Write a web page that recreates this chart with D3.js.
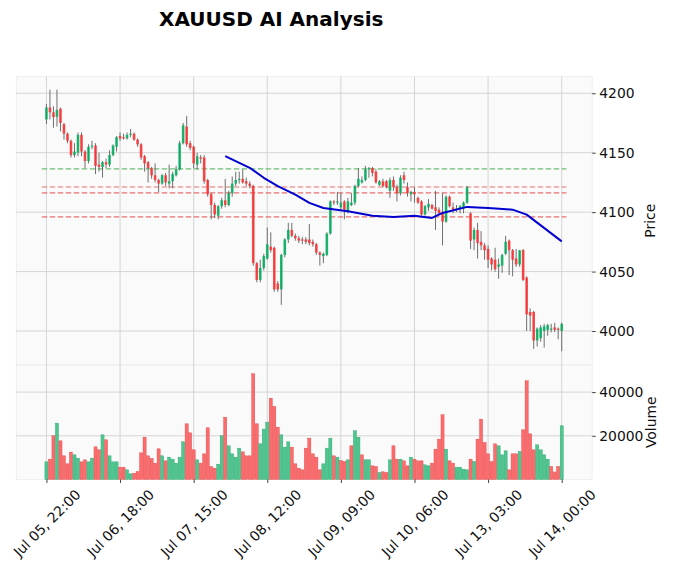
<!DOCTYPE html>
<html>
<head>
<meta charset="utf-8">
<script src="https://cdn.jsdelivr.net/npm/d3@7"></script>
<style>
  body { margin: 0; background: #ffffff; }
  svg text { font-family: "DejaVu Sans", sans-serif; }
</style>
</head>
<body>
<div id="chart"></div>
<script>
// hourly candles (index 0 = Jul 05 22:00)
const opens = [
  4178, 4188, 4184, 4180, 4187, 4174, 4166, 4160, 4148, 4150,
  4165, 4151, 4143, 4155, 4156, 4140, 4138, 4142, 4140, 4148,
  4155, 4164, 4163, 4162, 4165, 4166, 4161, 4157, 4147, 4142,
  4137, 4131, 4127, 4124, 4131, 4124, 4126, 4131, 4136, 4158,
  4172, 4158, 4155, 4140, 4146, 4146, 4127, 4115, 4106, 4097,
  4105, 4110, 4106, 4116, 4124, 4127, 4128, 4126, 4124, 4122,
  4057, 4043, 4053, 4061, 4071, 4070, 4040, 4035, 4064, 4077,
  4085, 4080, 4078, 4077, 4077, 4077, 4075, 4073, 4066, 4063,
  4064, 4082, 4109, 4108, 4104, 4109, 4101, 4106, 4108, 4122,
  4125, 4127, 4136, 4137, 4134, 4123, 4126, 4126, 4118, 4127,
  4121, 4116, 4131, 4121, 4115, 4117, 4112, 4109, 4098, 4104,
  4106, 4104, 4102, 4100, 4092, 4113, 4104, 4102, 4103, 4103,
  4108, 4099, 4077, 4085, 4075, 4072, 4069, 4061, 4060, 4054,
  4055, 4065, 4076, 4068, 4061, 4056, 4068, 4045, 4016, 4016,
  3992, 3994, 4000, 4001, 4001, 4003, 4002, 4000
];
const highs = [
  4191, 4203, 4189, 4203, 4188, 4175, 4167, 4161, 4158, 4167,
  4167, 4152, 4157, 4160, 4158, 4150, 4143, 4145, 4152, 4157,
  4164, 4167, 4166, 4167, 4170, 4167, 4162, 4158, 4148, 4143,
  4138, 4141, 4128, 4132, 4133, 4140, 4134, 4139, 4160, 4175,
  4181, 4160, 4156, 4150, 4148, 4148, 4128, 4116, 4108, 4106,
  4112, 4128, 4118, 4130, 4134, 4134, 4136, 4129, 4126, 4123,
  4058, 4060, 4065, 4087, 4083, 4071, 4042, 4065, 4078, 4091,
  4091, 4082, 4080, 4079, 4079, 4090, 4077, 4074, 4067, 4066,
  4083, 4110, 4110, 4117, 4116, 4110, 4112, 4116, 4123, 4137,
  4130, 4139, 4138, 4138, 4136, 4127, 4128, 4127, 4129, 4130,
  4123, 4131, 4134, 4125, 4118, 4121, 4113, 4110, 4106, 4111,
  4107, 4118, 4104, 4116, 4114, 4114, 4108, 4106, 4106, 4109,
  4122, 4100, 4087, 4091, 4084, 4074, 4072, 4062, 4070, 4061,
  4065, 4080, 4077, 4069, 4069, 4068, 4069, 4046, 4019, 4017,
  4003, 4005, 4006, 4006, 4006, 4007, 4003, 4007
];
const lows = [
  4174, 4178, 4171, 4172, 4168, 4161, 4158, 4146, 4146, 4147,
  4147, 4137, 4141, 4153, 4132, 4134, 4129, 4137, 4138, 4147,
  4151, 4160, 4161, 4161, 4163, 4160, 4155, 4144, 4134, 4125,
  4128, 4125, 4117, 4123, 4122, 4120, 4120, 4130, 4135, 4157,
  4155, 4152, 4137, 4136, 4141, 4124, 4113, 4094, 4095, 4094,
  4103, 4104, 4105, 4113, 4122, 4124, 4124, 4122, 4120, 4055,
  4041, 4041, 4051, 4060, 4066, 4033, 4033, 4022, 4062, 4074,
  4079, 4076, 4074, 4073, 4073, 4072, 4071, 4064, 4055, 4057,
  4063, 4081, 4106, 4106, 4102, 4094, 4099, 4105, 4106, 4121,
  4124, 4126, 4129, 4130, 4124, 4122, 4121, 4120, 4112, 4118,
  4109, 4114, 4124, 4113, 4109, 4108, 4107, 4097, 4097, 4101,
  4102, 4085, 4098, 4072, 4091, 4104, 4099, 4100, 4099, 4099,
  4107, 4069, 4068, 4061, 4068, 4060, 4053, 4051, 4050, 4044,
  4049, 4064, 4047, 4046, 4054, 4054, 4042, 4000, 4000, 3985,
  3987, 3991, 3986, 3996, 3999, 3999, 3993, 3983
];
const closes = [
  4188, 4184, 4180, 4186, 4175, 4166, 4160, 4148, 4151, 4165,
  4151, 4143, 4155, 4156, 4139, 4138, 4142, 4140, 4148, 4156,
  4163, 4162, 4162, 4165, 4166, 4161, 4157, 4146, 4141, 4137,
  4131, 4127, 4124, 4131, 4125, 4126, 4132, 4136, 4158, 4173,
  4157, 4154, 4141, 4147, 4145, 4126, 4115, 4106, 4098, 4105,
  4110, 4106, 4116, 4124, 4127, 4128, 4125, 4124, 4122, 4057,
  4043, 4053, 4063, 4073, 4068, 4035, 4035, 4064, 4077, 4085,
  4080, 4078, 4076, 4076, 4075, 4074, 4073, 4066, 4064, 4065,
  4082, 4109, 4108, 4109, 4108, 4102, 4109, 4108, 4122, 4128,
  4127, 4136, 4137, 4133, 4125, 4126, 4122, 4121, 4127, 4121,
  4116, 4129, 4127, 4116, 4117, 4115, 4108, 4098, 4105, 4107,
  4103, 4101, 4099, 4092, 4113, 4105, 4102, 4103, 4105, 4108,
  4121, 4076, 4085, 4074, 4072, 4068, 4060, 4056, 4052, 4056,
  4064, 4075, 4068, 4060, 4056, 4068, 4043, 4014, 4013, 3992,
  4002, 4003, 4004, 4005, 4002, 4001, 4001, 4006
];
const volumes = [
  8090, 9310, 20000, 25800, 17710, 10840, 7180, 12520, 11300, 9770,
  8090, 9000, 8090, 9770, 14960, 13590, 20450, 18160, 10840, 8090,
  8090, 5650, 5650, 4430, 2600, 2900, 3670, 12210, 19380, 10840,
  9620, 7480, 14040, 10840, 8550, 10230, 9310, 7480, 10230, 17250,
  25490, 21370, 13590, 9010, 7480, 11750, 23660, 5960, 5190, 7020,
  20000, 28540, 15420, 11750, 10230, 14350, 12670, 10840, 10840, 48380,
  25490, 16330, 23050, 26250, 37240, 33420, 23960, 20450, 14810, 17250,
  14810, 7180, 5190, 4430, 14350, 18930, 11750, 10230, 4430, 7180,
  14350, 18930, 10840, 10230, 8700, 8250, 9010, 15420, 22290, 19380,
  11300, 9010, 9010, 6260, 5960, 3210, 3520, 3210, 9010, 15420,
  9310, 9310, 8550, 6260, 10230, 9310, 8550, 8550, 6720, 6260,
  7480, 13890, 18470, 29610, 13890, 8550, 7480, 5650, 5650, 4740,
  4430, 9310, 8250, 18470, 27620, 16940, 11750, 8250, 16330, 15420,
  11300, 13130, 4430, 11750, 11750, 12820, 22740, 45170, 20910, 13590,
  15880, 13590, 11300, 9310, 5960, 3460, 5960, 24570
];

// x ticks: bar index and its label
const tickIndex = [0, 21, 42, 63, 84, 105, 126, 147];
const tickLabels = ["Jul 05, 22:00", "Jul 06, 18:00", "Jul 07, 15:00", "Jul 08, 12:00",
                    "Jul 09, 09:00", "Jul 10, 06:00", "Jul 13, 03:00", "Jul 14, 00:00"];
const priceTicks = [4000, 4050, 4100, 4150, 4200];
const volumeTicks = [20000, 40000];

// dashed levels (first one green, rest red)
const levelPrices = [4136.4, 4121.2, 4116.2, 4096.0];
const levelKinds = ["up", "down", "down", "down"];

// blue trend line
const lineIndex = [51, 58, 62, 66, 71, 75, 79, 86, 93, 99, 105, 110, 113, 120, 126, 133, 137, 147];
const lineValues = [4147.1, 4137.3, 4128.9, 4121.8, 4114.8, 4107.8, 4103.5, 4100.7, 4097.0,
                    4096.0, 4097.0, 4095.1, 4099.3, 4104.4, 4103.5, 4102.1, 4097.9, 4075.4];

// layout
const width = 674;
const height = 570;
const left = 16.3, right = 592.2;
const mainTop = 76.5, split = 365, volBottom = 479.5;

const upCandle = "#00b060", downCandle = "#fe3032";
const upVol = "#4dc790", downVol = "#fd6b6c";

let svg = d3.select("#chart")
  .append("svg")
  .attr("width", width)
  .attr("height", height);

let x = d3.scaleLinear().domain([-8.6, 155.7]).range([left, right]);
let yPrice = d3.scaleLinear().domain([3971.4, 4214.1]).range([split, mainTop]);
let yVol = d3.scaleLinear().domain([0, 52400]).range([volBottom, split]);

// panel backgrounds
[[mainTop, split], [split, volBottom]].forEach((p) => {
  svg.append("rect")
    .attr("x", left).attr("y", p[0])
    .attr("width", right - left).attr("height", p[1] - p[0])
    .attr("fill", "#fafafa")
    .attr("stroke", "#ececec")
    .attr("stroke-width", 0.8);
});

// grid
let grid = svg.append("g").attr("stroke", "#d0d0d0").attr("stroke-width", 0.9);
tickIndex.forEach((i) => {
  grid.append("line")
    .attr("x1", x(i)).attr("x2", x(i))
    .attr("y1", mainTop).attr("y2", volBottom);
});
priceTicks.forEach((p) => {
  grid.append("line")
    .attr("x1", left).attr("x2", right)
    .attr("y1", yPrice(p)).attr("y2", yPrice(p));
});
volumeTicks.forEach((v) => {
  grid.append("line")
    .attr("x1", left).attr("x2", right)
    .attr("y1", yVol(v)).attr("y2", yVol(v));
});

// dashed levels
svg.append("g")
  .selectAll("line")
  .data(levelPrices)
  .enter()
  .append("line")
  .attr("x1", x(-1.35))
  .attr("x2", x(148.35))
  .attr("y1", (d) => yPrice(d))
  .attr("y2", (d) => yPrice(d))
  .attr("stroke", (d, i) => levelKinds[i] === "up" ? "#4caf50" : "#e05050")
  .attr("stroke-opacity", 0.8)
  .attr("stroke-width", 1.1)
  .attr("stroke-dasharray", "5.5,2.5");

// candles
let bw = 2.6;
let candles = svg.append("g")
  .selectAll("g")
  .data(closes)
  .enter()
  .append("g");

candles.append("line")
  .attr("x1", (d, i) => x(i))
  .attr("x2", (d, i) => x(i))
  .attr("y1", (d, i) => yPrice(highs[i]))
  .attr("y2", (d, i) => yPrice(lows[i]))
  .attr("stroke", "#606060")
  .attr("stroke-width", 0.9);

candles.append("rect")
  .attr("x", (d, i) => x(i) - bw / 2)
  .attr("width", bw)
  .attr("y", (d, i) => yPrice(Math.max(opens[i], d)))
  .attr("height", (d, i) => Math.max(0.9, Math.abs(yPrice(opens[i]) - yPrice(d))))
  .attr("fill", (d, i) => d >= opens[i] ? upCandle : downCandle)
  .attr("fill-opacity", 0.85);

// blue line
let line = d3.line()
  .x((d) => x(d[0]))
  .y((d) => yPrice(d[1]));

svg.append("path")
  .datum(lineIndex.map((d, i) => [d, lineValues[i]]))
  .attr("d", line)
  .attr("fill", "none")
  .attr("stroke", "#0000d0")
  .attr("stroke-width", 2)
  .attr("stroke-linejoin", "round");

// volume bars (colour: close vs previous close)
let vw = 3.1;
function volUp(i) {
  return i === 0 ? closes[0] >= opens[0] : closes[i] > closes[i - 1];
}
svg.append("g")
  .selectAll("rect")
  .data(volumes)
  .enter()
  .append("rect")
  .attr("x", (d, i) => x(i) - vw / 2)
  .attr("width", vw)
  .attr("y", (d) => yVol(d))
  .attr("height", (d) => volBottom - yVol(d))
  .attr("fill", (d, i) => volUp(i) ? upVol : downVol)
  .attr("stroke", (d, i) => volUp(i) ? "#2f9f6c" : "#d9484a")
  .attr("stroke-width", 0.4);

// axes
function styleAxis(g) {
  g.attr("font-family", "DejaVu Sans").attr("font-size", 13.9);
  g.select(".domain").remove();
  g.selectAll("line").attr("stroke", "#101010").attr("stroke-width", 0.8);
  g.selectAll("text").attr("fill", "#101010");
}

let yAxis = d3.axisRight(yPrice)
  .tickValues(priceTicks)
  .tickFormat(d3.format("d"))
  .tickSize(3.5)
  .tickPadding(3.5);
svg.append("g")
  .attr("transform", `translate(${right},0)`)
  .call(yAxis)
  .call(styleAxis);

let vAxis = d3.axisRight(yVol)
  .tickValues(volumeTicks)
  .tickFormat(d3.format("d"))
  .tickSize(3.5)
  .tickPadding(3.5);
svg.append("g")
  .attr("transform", `translate(${right},0)`)
  .call(vAxis)
  .call(styleAxis);

let xAxis = d3.axisBottom(x)
  .tickValues(tickIndex)
  .tickFormat((d, i) => tickLabels[i])
  .tickSize(3.5);
let gx = svg.append("g")
  .attr("transform", `translate(0,${volBottom})`)
  .call(xAxis)
  .call(styleAxis);

gx.selectAll("text")
  .attr("y", null)
  .attr("dy", null)
  .attr("text-anchor", "middle")
  .attr("dominant-baseline", "central")
  .attr("transform", "translate(0,43.5) rotate(-45)");

// axis titles
svg.append("text")
  .attr("transform", `translate(650,${(mainTop + split) / 2}) rotate(-90)`)
  .attr("text-anchor", "middle")
  .attr("dominant-baseline", "central")
  .attr("font-size", 13.9)
  .attr("fill", "#101010")
  .text("Price");

svg.append("text")
  .attr("transform", `translate(651,${(split + volBottom) / 2}) rotate(-90)`)
  .attr("text-anchor", "middle")
  .attr("dominant-baseline", "central")
  .attr("font-size", 13.9)
  .attr("fill", "#101010")
  .text("Volume");

// title
svg.append("text")
  .attr("x", 271.2)
  .attr("y", 25.5)
  .attr("text-anchor", "middle")
  .attr("font-size", 20)
  .attr("font-weight", "bold")
  .attr("fill", "#000")
  .text("XAUUSD AI Analysis");
</script>
</body>
</html>
